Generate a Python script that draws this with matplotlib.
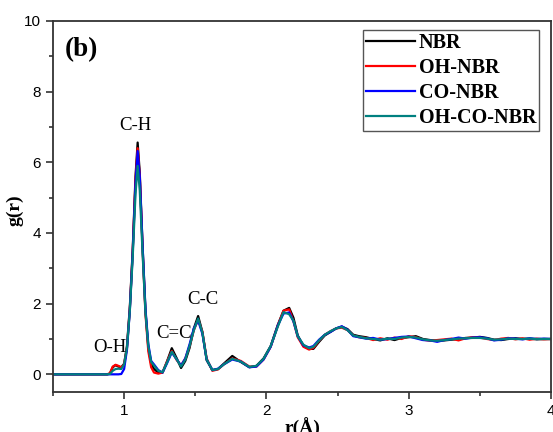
import matplotlib.pyplot as plt
from matplotlib.ticker import MultipleLocator

# shared r grid (Angstrom)
r = [0.50, 0.88, 0.90, 0.92, 0.94, 0.96, 0.98, 1.00, 1.02, 1.04, 1.06, 1.08, 1.095,
     1.11, 1.13, 1.15, 1.17, 1.19, 1.21, 1.24, 1.27, 1.30, 1.335, 1.37, 1.40, 1.43,
     1.46, 1.49, 1.52, 1.55, 1.58, 1.62, 1.66, 1.70, 1.76, 1.82, 1.88, 1.93, 1.98,
     2.03, 2.08, 2.12, 2.16, 2.19, 2.22, 2.26, 2.30, 2.33, 2.37, 2.41, 2.45, 2.49,
     2.53, 2.57, 2.61, 2.65, 2.70, 2.75, 2.80, 2.85, 2.90, 2.95, 3.00, 3.05, 3.10,
     3.15, 3.20, 3.25, 3.30, 3.35, 3.40, 3.45, 3.50, 3.55, 3.60, 3.65, 3.70, 3.75,
     3.80, 3.85, 3.90, 3.95, 4.00]

g_nbr = [0, 0, 0.02, 0.20, 0.26, 0.22, 0.20, 0.30, 0.80, 1.90, 3.50, 5.60, 6.56,
         5.70, 3.60, 1.80, 0.75, 0.30, 0.15, 0.05, 0.05, 0.35, 0.74, 0.45, 0.18, 0.38,
         0.75, 1.30, 1.65, 1.20, 0.40, 0.12, 0.15, 0.30, 0.52, 0.35, 0.20, 0.24, 0.45,
         0.80, 1.40, 1.80, 1.88, 1.60, 1.10, 0.80, 0.72, 0.72, 0.92, 1.10, 1.20, 1.30,
         1.35, 1.28, 1.12, 1.08, 1.05, 1.00, 0.96, 1.02, 0.97, 1.03, 1.05, 1.08, 1.00,
         0.97, 0.95, 0.96, 0.98, 1.00, 1.03, 1.04, 1.06, 1.03, 0.98, 0.97, 1.00, 1.02,
         1.00, 1.01, 0.99, 1.00, 1.00]

g_oh = [0, 0, 0.03, 0.22, 0.27, 0.24, 0.20, 0.28, 0.75, 1.85, 3.45, 5.50, 6.40,
        5.60, 3.50, 1.70, 0.65, 0.20, 0.05, 0.02, 0.05, 0.35, 0.66, 0.40, 0.25, 0.45,
        0.80, 1.25, 1.55, 1.20, 0.45, 0.10, 0.14, 0.28, 0.45, 0.38, 0.22, 0.22, 0.42,
        0.78, 1.38, 1.80, 1.84, 1.50, 1.05, 0.78, 0.70, 0.75, 0.95, 1.12, 1.22, 1.30,
        1.32, 1.25, 1.10, 1.05, 1.03, 0.97, 1.02, 0.98, 1.04, 1.00, 1.08, 1.05, 0.98,
        0.95, 0.97, 0.99, 1.01, 0.96, 1.02, 1.05, 1.04, 1.00, 0.97, 1.01, 1.03, 0.99,
        1.02, 0.98, 1.01, 0.99, 1.00]

g_co = [0, 0, 0, 0, 0, 0, 0.01, 0.15, 0.70, 1.80, 3.40, 5.40, 6.32,
        5.60, 3.60, 1.85, 0.85, 0.38, 0.28, 0.12, 0.05, 0.30, 0.62, 0.42, 0.25, 0.45,
        0.85, 1.30, 1.52, 1.15, 0.42, 0.12, 0.16, 0.28, 0.42, 0.36, 0.20, 0.22, 0.42,
        0.78, 1.38, 1.72, 1.75, 1.50, 1.08, 0.82, 0.76, 0.80, 0.98, 1.12, 1.20, 1.30,
        1.36, 1.26, 1.08, 1.05, 1.01, 1.03, 0.98, 1.00, 1.03, 1.06, 1.07, 1.02, 0.97,
        0.96, 0.92, 0.97, 1.00, 1.04, 1.01, 1.04, 1.05, 1.02, 0.96, 0.98, 1.02, 1.01,
        0.99, 1.02, 1.00, 1.01, 1.00]

g_ohco = [0, 0, 0.01, 0.10, 0.15, 0.16, 0.15, 0.28, 0.75, 1.80, 3.30, 5.10, 5.90,
          5.20, 3.40, 1.75, 0.80, 0.35, 0.25, 0.10, 0.06, 0.32, 0.64, 0.42, 0.22, 0.42,
          0.80, 1.25, 1.58, 1.18, 0.42, 0.12, 0.15, 0.28, 0.44, 0.36, 0.21, 0.24, 0.44,
          0.80, 1.35, 1.76, 1.70, 1.52, 1.08, 0.84, 0.74, 0.78, 0.96, 1.12, 1.22, 1.30,
          1.34, 1.25, 1.10, 1.06, 1.02, 1.00, 0.98, 1.01, 1.00, 1.04, 1.06, 1.04, 0.99,
          0.96, 0.95, 0.97, 0.99, 1.01, 1.02, 1.03, 1.03, 1.01, 0.98, 0.99, 1.01, 1.00,
          1.00, 1.01, 1.00, 1.00, 1.00]

series = [("NBR", g_nbr, "black"), ("OH-NBR", g_oh, "#ff0000"),
          ("CO-NBR", g_co, "#0000ff"), ("OH-CO-NBR", g_ohco, "#008080")]

peak_labels = ["O-H", "C-H", "C=C", "C-C"]
peak_pos = [(0.90, 0.76), (1.082, 7.03), (1.35, 1.16), (1.55, 2.12)]

fig = plt.figure(figsize=(5.53, 4.32), dpi=100)
ax = fig.add_axes([0.0958, 0.0926, 0.9006, 0.8588])

for name, g, c in series:
    ax.plot(r, g, color=c, lw=1.6, label=name)

serif = "Liberation Serif"
for lab, (x, y) in zip(peak_labels, peak_pos):
    ax.text(x, y, lab, ha="center", va="center", family=serif, fontsize=13.5)

ax.text(0.584, 9.19, "(b)", family=serif, fontweight="bold", fontsize=19.5,
        ha="left", va="center")

ax.set_xlim(0.5, 4)
ax.set_ylim(-0.5, 10)
ax.xaxis.set_major_locator(MultipleLocator(1))
ax.xaxis.set_minor_locator(MultipleLocator(0.5))
ax.yaxis.set_major_locator(MultipleLocator(2))
ax.yaxis.set_minor_locator(MultipleLocator(1))
ax.tick_params(which="both", direction="out", top=False, right=False,
               colors="#333333", labelcolor="black", width=1.2)
ax.tick_params(which="major", length=5, labelsize=11)
ax.tick_params(which="minor", length=3)
for lab in ax.get_xticklabels() + ax.get_yticklabels():
    lab.set_family("Liberation Sans")
for s in ax.spines.values():
    s.set_color("#333333")
    s.set_linewidth(1.3)

ax.set_xlabel("r(Å)", family=serif, fontweight="bold", fontsize=14, labelpad=0)
ax.set_ylabel("g(r)", family=serif, fontweight="bold", fontsize=14)
ax.yaxis.set_label_coords(-0.060, 0.49)

leg = ax.legend(loc="upper right", bbox_to_anchor=(0.976, 0.9757),
                prop={"family": serif, "weight": "bold", "size": 14.5},
                handlelength=2.4, handletextpad=0.2, labelspacing=0.25,
                borderpad=0.15, borderaxespad=0, fancybox=False, framealpha=1)
leg.get_frame().set_edgecolor("#555555")
leg.get_frame().set_linewidth(1.0)

fig.savefig("out.png", dpi=100)
